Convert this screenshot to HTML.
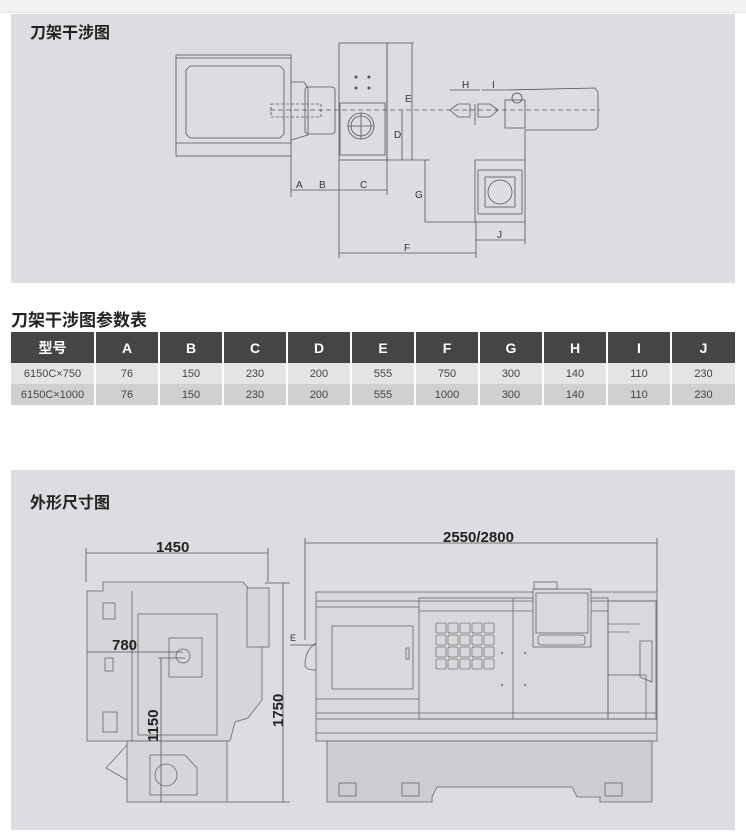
<!DOCTYPE html>
<html><head><meta charset="utf-8"><style>
body{margin:0;width:746px;height:838px;background:#fff;font-family:"Liberation Sans","Noto Sans CJK SC",sans-serif;position:relative;overflow:hidden}
.top{position:absolute;left:0;top:0;width:746px;height:12px;background:#f2f2f2;border-bottom:1px solid #e6e6e6}
.t{position:absolute;font-weight:bold;font-size:16px;color:#222}
table{position:absolute;left:11px;top:332px;width:724px;border-collapse:collapse;table-layout:fixed;font-size:11px;color:#444;text-align:center}
th{background:#454545;color:#fff;font-weight:bold;font-size:14px;height:31px;border-left:2px solid #fff;padding:0}
td{height:21px;border-left:2px solid #fff;padding:0}
th:first-child,td:first-child{border-left:none}
tr.r1 td{background:#e4e4e4}
tr.r2 td{background:#cfd0d2}
</style></head><body>
<div class="top"></div>
<svg style="position:absolute;left:0;top:0" width="746" height="838" font-family="Liberation Sans, sans-serif">
<rect x="11" y="14" width="724" height="269" fill="#dcdde0"/>
<rect x="11" y="470" width="724" height="360" fill="#dcdde0"/>
<g fill="none" stroke="#555" stroke-width="0.8">
<rect x="176" y="55" width="115" height="101"/>
<line x1="176" y1="58" x2="291" y2="58"/>
<line x1="176" y1="143" x2="291" y2="143"/>
<path d="M190 66 L280 66 L284 70 L284 134 L280 138 L190 138 L186 134 L186 70 Z"/>
<path d="M291 82 L304 82 L308 88 L308 135 L291 140"/>
<rect x="305" y="87" width="30" height="47" rx="3"/>
<rect x="271" y="104" width="50" height="13" stroke-dasharray="3,2"/>
<rect x="339" y="43" width="48" height="117"/>
<line x1="387" y1="43" x2="387" y2="195"/>
<line x1="339" y1="160" x2="339" y2="258"/>
<line x1="291" y1="156" x2="291" y2="197"/>
<rect x="340" y="103" width="45" height="52"/>
<circle cx="361" cy="126" r="13"/>
<circle cx="361" cy="126" r="10"/>
<line x1="348" y1="126" x2="374" y2="126"/><line x1="361" y1="113" x2="361" y2="139"/>
<path d="M505 90 L595 88 L598 92 L598 127 L595 130 L525 130 L525 160"/>
<rect x="505" y="100" width="20" height="28"/>
<circle cx="517" cy="98" r="5"/>
<path d="M450 110 L458 104 L470 104 L470 117 L458 117 Z"/>
<path d="M478 104 L490 104 L498 110 L490 117 L478 117 Z"/>
<line x1="475" y1="104" x2="475" y2="125"/>
<path d="M475 160 L525 160 L525 222 L475 222 Z"/>
<rect x="478" y="170" width="44" height="44"/>
<rect x="485" y="177" width="30" height="30"/>
<circle cx="500" cy="192" r="12"/>
<line x1="387" y1="43" x2="414" y2="43"/><line x1="412" y1="43" x2="412" y2="160"/>
<line x1="402" y1="110" x2="402" y2="160"/><line x1="387" y1="160" x2="430" y2="160"/>
<line x1="425" y1="160" x2="425" y2="222"/><line x1="425" y1="222" x2="476" y2="222"/>
<line x1="291" y1="190" x2="387" y2="190"/>
<line x1="339" y1="253" x2="476" y2="253"/><line x1="476" y1="222" x2="476" y2="258"/>
<line x1="476" y1="240" x2="525" y2="240"/><line x1="525" y1="222" x2="525" y2="244"/>
<line x1="450" y1="90" x2="480" y2="90"/><line x1="482" y1="90" x2="505" y2="90"/>
</g>
<line x1="270" y1="110" x2="600" y2="110" stroke="#555" stroke-width="0.8" stroke-dasharray="5,3"/>
<g fill="#555"><circle cx="356" cy="77" r="1.5"/><circle cx="369" cy="77" r="1.5"/><circle cx="356" cy="88" r="1.5"/><circle cx="369" cy="88" r="1.5"/></g>
<g font-size="10" fill="#333">
<text x="405" y="102">E</text><text x="394" y="138">D</text><text x="415" y="198">G</text>
<text x="296" y="188">A</text><text x="319" y="188">B</text><text x="360" y="188">C</text>
<text x="404" y="251">F</text><text x="497" y="238">J</text><text x="462" y="88">H</text><text x="492" y="88">I</text>
</g>
<g fill="#d5d6d9" stroke="#666" stroke-width="0.8">
<path d="M103 582 L243 582 L250 590 L247 598 L262 612 L262 700 L248 718 L235 722 L230 741 L87 741 L87 591 L103 591 Z"/>
<rect x="127" y="741" width="100" height="61"/>
<rect x="138" y="614" width="79" height="121"/>
<rect x="169" y="638" width="33" height="39"/>
<rect x="247" y="588" width="22" height="59"/>
</g>
<g fill="none" stroke="#666" stroke-width="0.8">
<circle cx="183" cy="656" r="7"/>
<line x1="132" y1="591" x2="132" y2="741"/>
<path d="M150 755 L185 755 L197 768 L197 795 L150 795 Z"/>
<circle cx="166" cy="775" r="11"/>
<path d="M127 745 L106 768 L127 780"/>
<rect x="103" y="603" width="12" height="16"/><rect x="105" y="658" width="8" height="13"/><rect x="103" y="712" width="14" height="20"/>
</g>
<rect x="316" y="592" width="341" height="149" fill="#d8d9dc" stroke="#666" stroke-width="0.8"/>
<path d="M327 741 L652 741 L652 802 L600 802 L600 797 L577 797 L572 787 L437 787 L432 797 L432 802 L327 802 Z" fill="#cdced1" stroke="#666" stroke-width="0.8"/>
<g fill="none" stroke="#666" stroke-width="0.8">
<line x1="316" y1="601" x2="657" y2="601"/><line x1="316" y1="607" x2="419" y2="607"/>
<line x1="316" y1="699" x2="419" y2="699"/><line x1="316" y1="713" x2="657" y2="713"/>
<line x1="316" y1="719" x2="657" y2="719"/><line x1="316" y1="733" x2="657" y2="733"/>
<rect x="332" y="626" width="81" height="63"/>
<rect x="406" y="648" width="3" height="11"/>
<rect x="419" y="598" width="189" height="121"/>
<line x1="419" y1="611" x2="608" y2="611"/>
<line x1="513" y1="598" x2="513" y2="719"/>
<rect x="608" y="601" width="48" height="118"/>
<rect x="608" y="675" width="38" height="44"/>
<path d="M640 641 L652 641 L652 682 L640 677 Z"/>
<rect x="533" y="589" width="58" height="58" fill="#d8d9dc"/>
<rect x="536" y="593" width="52" height="40"/>
<rect x="538" y="635" width="47" height="10" rx="3"/>
<rect x="534" y="582" width="23" height="7"/>
<rect x="339" y="783" width="17" height="13"/><rect x="402" y="783" width="17" height="13"/><rect x="605" y="783" width="17" height="13"/>
<path d="M316 643 Q305 650 305 665 Q305 670 316 670"/>
</g>
<g fill="none" stroke="#777" stroke-width="0.8">
<rect x="436" y="623" width="10" height="10" rx="1.5"/><rect x="448" y="623" width="10" height="10" rx="1.5"/><rect x="460" y="623" width="10" height="10" rx="1.5"/><rect x="472" y="623" width="10" height="10" rx="1.5"/><rect x="484" y="623" width="10" height="10" rx="1.5"/>
<rect x="436" y="635" width="10" height="10" rx="1.5"/><rect x="448" y="635" width="10" height="10" rx="1.5"/><rect x="460" y="635" width="10" height="10" rx="1.5"/><rect x="472" y="635" width="10" height="10" rx="1.5"/><rect x="484" y="635" width="10" height="10" rx="1.5"/>
<rect x="436" y="647" width="10" height="10" rx="1.5"/><rect x="448" y="647" width="10" height="10" rx="1.5"/><rect x="460" y="647" width="10" height="10" rx="1.5"/><rect x="472" y="647" width="10" height="10" rx="1.5"/><rect x="484" y="647" width="10" height="10" rx="1.5"/>
<rect x="436" y="659" width="10" height="10" rx="1.5"/><rect x="448" y="659" width="10" height="10" rx="1.5"/><rect x="460" y="659" width="10" height="10" rx="1.5"/><rect x="472" y="659" width="10" height="10" rx="1.5"/><rect x="484" y="659" width="10" height="10" rx="1.5"/>
<line x1="608" y1="624" x2="640" y2="624"/><line x1="608" y1="632" x2="630" y2="632"/>
</g>
<g fill="#666"><circle cx="502" cy="653" r="1"/><circle cx="525" cy="653" r="1"/><circle cx="502" cy="685" r="1"/><circle cx="525" cy="685" r="1"/></g>
<g stroke="#555" stroke-width="0.8" fill="none">
<line x1="86" y1="553" x2="268" y2="553"/><line x1="86" y1="548" x2="86" y2="582"/><line x1="268" y1="548" x2="268" y2="582"/>
<line x1="305" y1="543" x2="657" y2="543"/><line x1="305" y1="538" x2="305" y2="640"/><line x1="657" y1="538" x2="657" y2="592"/>
<line x1="283" y1="583" x2="283" y2="802"/><line x1="265" y1="583" x2="290" y2="583"/><line x1="227" y1="802" x2="290" y2="802"/>
<line x1="87" y1="652" x2="183" y2="652"/><line x1="161" y1="658" x2="161" y2="802"/><line x1="158" y1="658" x2="185" y2="658"/>
<line x1="290" y1="645" x2="316" y2="645"/>
</g>
<g font-weight="bold" fill="#222" font-size="15">
<text x="156" y="552">1450</text><text x="443" y="542">2550/2800</text><text x="112" y="650">780</text>
<text transform="translate(283,727) rotate(-90)">1750</text>
<text transform="translate(158,742) rotate(-90)">1150</text>
</g>
<text x="290" y="641" font-size="9" fill="#333">E</text>
</svg>
<div class="t" style="left:30px;top:19px">刀架干涉图</div>
<div class="t" style="left:11px;top:306px;font-size:17px">刀架干涉图参数表</div>
<div class="t" style="left:30px;top:489px">外形尺寸图</div>
<table>
<colgroup><col style="width:84px"><col span="10" style="width:64px"></colgroup>
<tr><th>型号</th><th>A</th><th>B</th><th>C</th><th>D</th><th>E</th><th>F</th><th>G</th><th>H</th><th>I</th><th>J</th></tr>
<tr class="r1"><td>6150C×750</td><td>76</td><td>150</td><td>230</td><td>200</td><td>555</td><td>750</td><td>300</td><td>140</td><td>110</td><td>230</td></tr>
<tr class="r2"><td>6150C×1000</td><td>76</td><td>150</td><td>230</td><td>200</td><td>555</td><td>1000</td><td>300</td><td>140</td><td>110</td><td>230</td></tr>
</table>
</body></html>
